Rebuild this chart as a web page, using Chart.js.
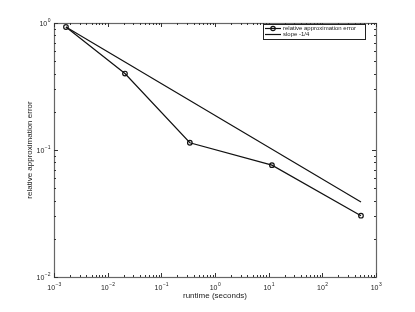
<!DOCTYPE html>
<html>
<head>
<meta charset="utf-8">
<script src="https://cdn.jsdelivr.net/npm/chart.js@4/dist/chart.umd.min.js"></script>
<style>
  html, body { margin: 0; padding: 0; background: #fff; }
  #wrap { width: 415px; height: 312px; }
</style>
</head>
<body>
<div id="wrap"><canvas id="errChart" width="415" height="312"></canvas></div>
<script>
// === DATA ===
const runtime = [0.00167, 0.021, 0.34, 11.5, 525];
const relError = [0.93, 0.40, 0.114, 0.076, 0.0304];
const slopeX = [0.00167, 525];
const slopeY = [0.93, 0.039];
const xDecades = [-3, -2, -1, 0, 1, 2, 3];
const yDecades = [-2, -1, 0];
const seriesLabels = ['relative approximation error', 'slope -1/4'];

const FONT = '"Liberation Sans", Arial, sans-serif';
const INK = '#111';

// draws the box, inward ticks, tick labels, titles and legend
const axesPlugin = {
    id: 'matlabAxes',
    afterDraw(chart) {
        const ctx = chart.ctx;
        const a = chart.chartArea;
        const xs = chart.scales.x, ys = chart.scales.y;
        ctx.save();
        ctx.strokeStyle = '#666';
        ctx.lineWidth = 1.2;
        ctx.strokeRect(Math.round(a.left) + 0.5, Math.round(a.top) + 0.5,
            Math.round(a.right - a.left), Math.round(a.bottom - a.top));

        ctx.strokeStyle = '#333';
        ctx.lineWidth = 1;
        function tick(x1, y1, x2, y2) {
            ctx.beginPath();
            ctx.moveTo(x1, y1);
            ctx.lineTo(x2, y2);
            ctx.stroke();
        }
        // x ticks (bottom + top)
        xDecades.forEach((d, i) => {
            for (let k = 1; k <= 9; k++) {
                if (k > 1 && i === xDecades.length - 1) break;
                const px = Math.round(xs.getPixelForValue(k * Math.pow(10, d))) + 0.5;
                const len = k === 1 ? 4 : 2;
                tick(px, a.bottom, px, a.bottom - len);
                tick(px, a.top, px, a.top + len);
            }
        });
        // y ticks (left + right)
        yDecades.forEach((d, i) => {
            for (let k = 1; k <= 9; k++) {
                if (k > 1 && i === yDecades.length - 1) break;
                const py = Math.round(ys.getPixelForValue(k * Math.pow(10, d))) + 0.5;
                const len = k === 1 ? 4 : 2;
                tick(a.left, py, a.left + len, py);
                tick(a.right, py, a.right - len, py);
            }
        });

        // tick labels with superscript exponents
        ctx.fillStyle = '#222';
        ctx.textBaseline = 'middle';
        function powLabel(exp, x, y, align) {
            ctx.font = '7px ' + FONT;
            const base = '10';
            const bw = ctx.measureText(base).width;
            ctx.font = '5px ' + FONT;
            const es = String(exp).replace('-', '\u2212');
            const ew = ctx.measureText(es).width;
            let left = align === 'right' ? x - bw - ew : x - (bw + ew) / 2;
            ctx.textAlign = 'left';
            ctx.font = '7px ' + FONT;
            ctx.fillText(base, left, y + 1);
            ctx.font = '5px ' + FONT;
            ctx.fillText(es, left + bw + 0.5, y - 2.5);
        }
        xDecades.forEach(d => {
            powLabel(d, xs.getPixelForValue(Math.pow(10, d)), a.bottom + 10, 'center');
        });
        yDecades.forEach(d => {
            powLabel(d, a.left - 4, ys.getPixelForValue(Math.pow(10, d)), 'right');
        });

        // axis titles
        ctx.font = '8px ' + FONT;
        ctx.textAlign = 'center';
        ctx.fillText('runtime (seconds)', (a.left + a.right) / 2, 296);
        ctx.save();
        ctx.translate(30, (a.top + a.bottom) / 2);
        ctx.rotate(-Math.PI / 2);
        ctx.fillText('relative approximation error', 0, 0);
        ctx.restore();

        // legend box
        const lx = 263, ly = 24, lw = 102, lh = 15;
        ctx.fillStyle = '#fff';
        ctx.fillRect(lx, ly, lw, lh);
        ctx.strokeStyle = '#222';
        ctx.strokeRect(lx + 0.5, ly + 0.5, lw, lh);
        ctx.strokeStyle = INK;
        ctx.lineWidth = 1.2;
        const rows = [ly + 4.5, ly + 10.5];
        rows.forEach(ry => tick(lx + 2, ry, lx + 18, ry));
        ctx.beginPath();
        ctx.arc(lx + 10, rows[0], 2.2, 0, Math.PI * 2);
        ctx.stroke();
        ctx.fillStyle = '#222';
        ctx.font = '6px ' + FONT;
        ctx.textAlign = 'left';
        seriesLabels.forEach((t, i) => ctx.fillText(t, lx + 20, rows[i]));
        ctx.restore();
    }
};

new Chart(document.getElementById('errChart'), {
    type: 'scatter',
    data: {
        datasets: [
            {
                label: seriesLabels[0],
                data: runtime.map((x, i) => ({ x: x, y: relError[i] })),
                showLine: true,
                borderColor: INK,
                borderWidth: 1.2,
                pointStyle: 'circle',
                pointRadius: 2.3,
                pointBorderWidth: 1.2,
                pointBorderColor: INK,
                pointBackgroundColor: 'rgba(0,0,0,0)'
            },
            {
                label: seriesLabels[1],
                data: slopeX.map((x, i) => ({ x: x, y: slopeY[i] })),
                showLine: true,
                borderColor: INK,
                borderWidth: 1.2,
                pointRadius: 0
            }
        ]
    },
    options: {
        responsive: false,
        animation: false,
        layout: { padding: { top: 23, right: 39, left: 0, bottom: 0 } },
        plugins: { legend: { display: false }, tooltip: { enabled: false } },
        scales: {
            x: {
                type: 'logarithmic', min: 1e-3, max: 1e3,
                grid: { display: false }, border: { display: false },
                ticks: { display: false },
                afterFit: s => { s.height = 35; }
            },
            y: {
                type: 'logarithmic', min: 1e-2, max: 1,
                grid: { display: false }, border: { display: false },
                ticks: { display: false },
                afterFit: s => { s.width = 54; }
            }
        }
    },
    plugins: [axesPlugin]
});
</script>
</body>
</html>
